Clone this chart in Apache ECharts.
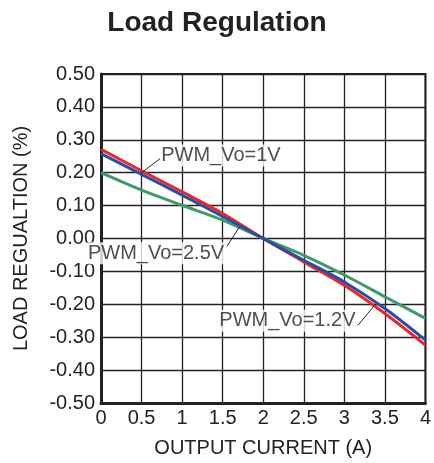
<!DOCTYPE html>
<html><head><meta charset="utf-8">
<script src="https://cdn.jsdelivr.net/npm/echarts@6/dist/echarts.min.js"></script>
<style>html,body{margin:0;padding:0;background:#fff}#c{width:434px;height:463px}</style>
</head><body><div id="c"></div>
<script>
const xValues = [0, 0.5, 1, 1.5, 2, 2.5, 3, 3.5, 4];
const vo1V  = [0.271, 0.206, 0.142, 0.076, 0.000, -0.071, -0.142, -0.228, -0.324];
const vo12V = [0.258, 0.195, 0.132, 0.067, 0.000, -0.066, -0.132, -0.213, -0.309];
const vo25V = [0.200, 0.147, 0.101, 0.056, 0.000, -0.051, -0.111, -0.177, -0.243];
const xTicks = ['0', '0.5', '1', '1.5', '2', '2.5', '3', '3.5', '4'];
const yTicks = ['-0.50','-0.40','-0.30','-0.20','-0.10','0.00','0.10','0.20','0.30','0.40','0.50'];
const labelNames = ['PWM_Vo=1V', 'PWM_Vo=2.5V', 'PWM_Vo=1.2V'];
const labelAnchors = [[0.73, 0.252], [1.53, -0.045], [3.15, -0.250]];
const labelSides = ['right', 'left', 'left'];
const leaderLines = [
  [[0.73, 0.243], [0.50, 0.200]],
  [[1.553, -0.024], [1.709, 0.036]],
  [[3.168, -0.264], [3.372, -0.203]]
];

const pair = (ys) => xValues.map((x, i) => [x, ys[i]]);
const font = 'Liberation Sans, Arial, sans-serif';
const chart = echarts.init(document.getElementById('c'), null, {renderer: 'canvas'});
const series = [
  {type:'line', data: pair(vo25V), symbol:'none', smooth:0.3, lineStyle:{color:'#3d9a6c', width:3}, z:3},
  {type:'line', data: pair(vo1V), symbol:'none', smooth:0.3, lineStyle:{color:'#e8262c', width:3}, z:4},
  {type:'line', data: pair(vo12V), symbol:'none', smooth:0.3, lineStyle:{color:'#2b4ea2', width:3}, z:5}
];
leaderLines.forEach(l => series.push({type:'line', data:l, symbol:'none', lineStyle:{color:'#222', width:1}, z:6, silent:true}));
labelNames.forEach((n, i) => series.push({
  type:'scatter', data:[labelAnchors[i]], symbolSize:0, z:7, silent:true,
  label:{show:true, position:labelSides[i], distance:0, formatter:n, color:'#222',
    fontFamily:font, fontSize:20, backgroundColor:'#fff', padding:[1,1,1,1]}
}));
chart.setOption({
  animation:false,
  title:{text:'Load Regulation', left:'center', top:4,
    textStyle:{fontFamily:font, fontSize:28, fontWeight:'bold', color:'#222'}},
  grid:{left:101, right:6, top:74, bottom:60, show:true, borderColor:'#222', borderWidth:2, backgroundColor:'transparent'},
  xAxis:{type:'value', min:0, max:4, interval:0.5,
    name:'OUTPUT CURRENT (A)', nameLocation:'middle', nameGap:35,
    nameTextStyle:{fontFamily:font, fontSize:20, color:'#222'},
    axisLine:{show:true, onZero:false, lineStyle:{color:'#222', width:3}},
    axisTick:{show:false},
    axisLabel:{margin:5, fontFamily:font, fontSize:20, color:'#222',
      formatter:(v)=>xTicks[Math.round(v/0.5)]},
    splitLine:{show:true, lineStyle:{color:'#222', width:1.3}}},
  yAxis:{type:'value', min:-0.5, max:0.5, interval:0.1,
    name:'LOAD REGUALTION (%)', nameLocation:'middle', nameGap:70, nameRotate:90,
    nameTextStyle:{fontFamily:font, fontSize:20, color:'#222'},
    axisLine:{show:true, onZero:false, lineStyle:{color:'#222', width:3}},
    axisTick:{show:false},
    axisLabel:{margin:6, fontFamily:font, fontSize:20, color:'#222',
      formatter:(v)=>yTicks[Math.round((v+0.5)/0.1)]},
    splitLine:{show:true, lineStyle:{color:'#222', width:1.3}}},
  series: series
});
</script></body></html>
